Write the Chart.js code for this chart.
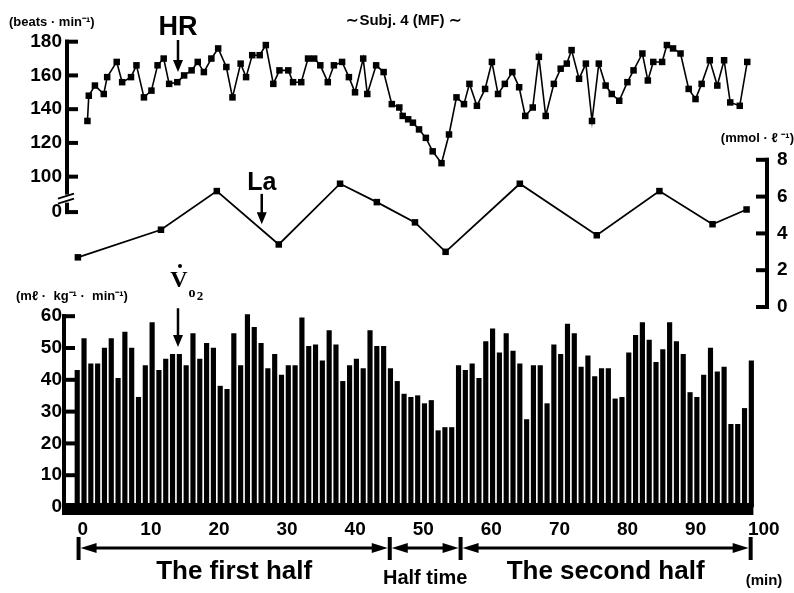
<!DOCTYPE html>
<html>
<head>
<meta charset="utf-8">
<script src="https://cdn.jsdelivr.net/npm/chart.js@4.4.1/dist/chart.umd.min.js"></script>
<style>
  html, body { margin: 0; padding: 0; background: #fff; }
  canvas { display: block; }
</style>
</head>
<body>
<canvas id="fig" width="794" height="593"></canvas>
<script>
// heart rate, one reading about every minute (beats/min)
var hrMinutes = [2.0, 2.2, 3.1, 4.4, 4.9, 6.3, 7.1, 8.4, 9.2, 10.3,
  11.4, 12.3, 13.2, 14.0, 15.2, 16.2, 17.3, 18.2, 19.1, 20.2,
  21.2, 22.4, 23.3, 24.5, 25.3, 26.2, 27.3, 28.2, 29.3, 30.2,
  31.5, 32.2, 33.4, 34.4, 35.3, 36.2, 37.3, 38.2, 39.4, 40.4,
  41.3, 42.5, 43.1, 44.4, 45.5, 46.7, 47.8, 48.3, 49.1, 49.8,
  50.7, 51.7, 52.7, 54.0, 55.1, 56.2, 57.3, 58.1, 59.2, 60.4,
  61.4, 62.3, 63.3, 64.4, 65.4, 66.3, 67.4, 68.3, 69.3, 70.5,
  71.5, 72.4, 73.1, 74.2, 75.2, 76.1, 77.1, 78.1, 79.0, 80.1,
  81.3, 82.2, 83.5, 84.3, 85.1, 86.4, 87.1, 88.0, 89.1, 90.3,
  91.3, 92.2, 93.4, 94.5, 95.5, 96.4, 97.8, 98.9];
var hrValues = [133, 148, 154, 149, 159, 168, 156, 159, 166, 147,
  151, 166, 170, 155, 156, 160, 163, 168, 162, 170,
  176, 165, 147, 167, 159, 172, 172, 178, 155, 163,
  163, 156, 156, 170, 170, 166, 156, 166, 168, 159,
  150, 170, 149, 166, 162, 143, 141, 136, 134, 132,
  128, 123, 115, 108, 125, 147, 143, 155, 142, 152,
  168, 149, 155, 162, 153, 136, 141, 171, 136, 155,
  164, 167, 175, 158, 167, 133, 167, 154, 149, 145,
  156, 163, 173, 157, 168, 168, 178, 176, 173, 152,
  146, 155, 169, 154, 169, 144, 142, 168];

// blood lactate (mmol/l)
var laMinutes = [0.6, 12.8, 21.0, 30.1, 39.1, 44.5, 50.1, 54.6, 65.5, 76.8, 86.0, 93.8, 98.8];
var laValues = [2.7, 4.2, 6.3, 3.4, 6.7, 5.7, 4.6, 3.0, 6.7, 3.9, 6.3, 4.5, 5.3];

// oxygen uptake, one bar per minute (ml/kg/min)
var vo2Values = [43, 53, 45, 45, 50, 53, 40.5, 55, 50, 34.5,
  44.5, 58, 43, 46.5, 48, 48, 44.5, 54.5, 46.5, 51.5,
  50, 38, 37, 54.5, 44.5, 60.5, 56.5, 51.5, 43.5, 48,
  41.5, 44.5, 44.5, 59.5, 50.5, 51, 46, 55.5, 51, 39.5,
  44.5, 46.5, 43.5, 55.5, 50.5, 50.5, 43.5, 39.5, 35.5, 34.5,
  35, 32.5, 33.5, 24, 25, 25, 44.5, 43, 45, 40.5,
  52, 56, 48.5, 54.5, 49, 45, 27.5, 44.5, 44.5, 32.5,
  51, 48, 57.5, 54.5, 44, 47.5, 41, 43.5, 43.5, 34,
  34.5, 48.5, 54, 58, 52.5, 45.5, 49.5, 58, 52, 48,
  36, 34.5, 41.5, 50, 42.5, 44, 26, 26, 31, 46];
var vo2Minutes = vo2Values.map(function (v, i) { return i + 0.5; });

// ticks
var minuteTicks = [0, 10, 20, 30, 40, 50, 60, 70, 80, 90, 100];
var hrAxisBreak = 79;   // where the broken HR axis shows "0"
var hrTicks = [hrAxisBreak, 100, 120, 140, 160, 180];
var laTicks = [0, 2, 4, 6, 8];
var vo2Ticks = [0, 10, 20, 30, 40, 50, 60];

// game periods (min)
var periodBounds = [0.7, 46.4, 56.8, 99.4];
var periodNames = ['The first half', 'Half time', 'The second half'];

var FONT = 'Liberation Sans, Arial, Helvetica, sans-serif';
var SERIF = 'Liberation Serif, DejaVu Serif, serif';

function setTicks(list) {
  return function (scale) {
    scale.ticks = list.map(function (v) { return { value: v }; });
  };
}

function seg(ctx, x1, y1, x2, y2) {
  ctx.beginPath();
  ctx.moveTo(x1, y1);
  ctx.lineTo(x2, y2);
  ctx.stroke();
}

function downArrow(ctx, x, y1, y2) {
  ctx.lineWidth = 2.5;
  seg(ctx, x, y1, x, y2 - 8);
  ctx.beginPath();
  ctx.moveTo(x - 5, y2 - 12);
  ctx.lineTo(x + 5, y2 - 12);
  ctx.lineTo(x, y2);
  ctx.closePath();
  ctx.fill();
}

var figureDecor = {
  id: 'figureDecor',
  afterDraw: function (chart) {
    var ctx = chart.ctx;
    var x = chart.scales.x, hr = chart.scales.hr, la = chart.scales.la, vo2 = chart.scales.vo2;
    var left = chart.chartArea.left, right = chart.chartArea.right;
    ctx.save();
    ctx.strokeStyle = '#000';
    ctx.fillStyle = '#000';

    // HR axis with a break down to 0
    var yTop = hr.getPixelForValue(180), y100 = hr.getPixelForValue(100), yZero = hr.getPixelForValue(hrAxisBreak);
    ctx.lineWidth = 4;
    seg(ctx, left, yTop - 2, left, y100 + 18);
    seg(ctx, left, y100 + 26, left, yZero + 2);
    hrTicks.forEach(function (v) {
      var y = hr.getPixelForValue(v);
      seg(ctx, left - 2, y, left + 11, y);
    });
    ctx.lineWidth = 2;
    seg(ctx, left - 9, y100 + 22, left + 7, y100 + 17);
    seg(ctx, left - 9, y100 + 27, left + 7, y100 + 22);

    // VO2 axis
    ctx.lineWidth = 4;
    seg(ctx, left - 3, vo2.getPixelForValue(60) - 2, left - 3, vo2.getPixelForValue(0));
    vo2Ticks.forEach(function (v) {
      var y = vo2.getPixelForValue(v);
      seg(ctx, left - 5, y, left + 8, y);
    });
    // thick base band
    var y0 = vo2.getPixelForValue(0);
    ctx.fillRect(left - 5, y0 - 4, x.getPixelForValue(99.8) - left + 5, 12);

    // lactate axis on the right
    seg(ctx, right, la.getPixelForValue(8) - 2, right, la.getPixelForValue(0) + 2);
    laTicks.forEach(function (v) {
      var y = la.getPixelForValue(v);
      seg(ctx, right - 11, y, right + 2, y);
    });

    // unit labels and title
    ctx.font = 'bold 13px ' + FONT;
    ctx.textBaseline = 'middle';
    ctx.textAlign = 'left';
    ctx.fillText('(beats \u00b7 min\u207b\u00b9)', 9, 22);
    ctx.fillText('(m\u2113 \u00b7  kg\u207b\u00b9 \u00b7  min\u207b\u00b9)', 16, 296);
    ctx.textAlign = 'right';
    ctx.fillText('(mmol \u00b7 \u2113 \u207b\u00b9)', 794, 138);
    ctx.textAlign = 'center';
    ctx.font = 'bold 15px ' + FONT;
    ctx.fillText('\u223cSubj. 4 (MF) \u223c', 404, 21);

    // HR label + arrow
    var hx = x.getPixelForValue(15.3);
    ctx.font = 'bold 27px ' + FONT;
    ctx.fillText('HR', hx, 28);
    downArrow(ctx, hx, hr.getPixelForValue(181), hr.getPixelForValue(162));

    // La label + arrow
    var lx = x.getPixelForValue(27.6);
    ctx.font = 'bold 25px ' + FONT;
    ctx.fillText('La', lx, la.getPixelForValue(6.75));
    downArrow(ctx, lx, la.getPixelForValue(6.15), la.getPixelForValue(4.5));

    // VO2 label + arrow
    var vx = x.getPixelForValue(15.3);
    ctx.font = 'bold 24px ' + SERIF;
    ctx.fillText('V', vx + 1, 281);
    ctx.beginPath();
    ctx.arc(vx + 2, 266, 2, 0, Math.PI * 2);
    ctx.fill();
    ctx.font = 'bold 14px ' + SERIF;
    ctx.fillText('o', vx + 14, 293);
    ctx.font = 'bold 13px ' + SERIF;
    ctx.fillText('2', vx + 22, 297);
    downArrow(ctx, vx, vo2.getPixelForValue(62.5), vo2.getPixelForValue(50.3));

    // game periods
    var ay = 548;
    ctx.lineWidth = 4;
    periodBounds.forEach(function (t) {
      var px = x.getPixelForValue(t);
      seg(ctx, px, ay - 11, px, ay + 12);
    });
    for (var i = 0; i < periodNames.length; i++) {
      var a = x.getPixelForValue(periodBounds[i]) + 2, b = x.getPixelForValue(periodBounds[i + 1]) - 2;
      ctx.lineWidth = 3;
      seg(ctx, a + 10, ay, b - 10, ay);
      ctx.beginPath();
      ctx.moveTo(a, ay); ctx.lineTo(a + 16, ay - 5); ctx.lineTo(a + 16, ay + 5); ctx.closePath();
      ctx.moveTo(b, ay); ctx.lineTo(b - 16, ay - 5); ctx.lineTo(b - 16, ay + 5); ctx.closePath();
      ctx.fill();
      var mid = (a + b) / 2;
      if (i === 1) {
        ctx.font = 'bold 20px ' + FONT;
        ctx.fillText(periodNames[i], mid, 578);
      } else {
        ctx.font = 'bold 26px ' + FONT;
        ctx.fillText(periodNames[i], mid, 572);
      }
    }
    ctx.font = 'bold 15px ' + FONT;
    ctx.fillText('(min)', 764, 581);
    ctx.restore();
  }
};

var tickFont = { family: FONT, size: 19, weight: 'bold' };

new Chart(document.getElementById('fig'), {
  type: 'bar',
  data: {
    datasets: [{
      type: 'line',
      label: 'HR',
      yAxisID: 'hr',
      data: hrMinutes.map(function (t, i) { return { x: t, y: hrValues[i] }; }),
      borderColor: '#000',
      borderWidth: 1.6,
      pointStyle: 'rect',
      pointRadius: 4.6,
      pointBackgroundColor: '#000',
      pointBorderWidth: 0,
      tension: 0
    }, {
      type: 'line',
      label: 'La',
      yAxisID: 'la',
      data: laMinutes.map(function (t, i) { return { x: t, y: laValues[i] }; }),
      borderColor: '#000',
      borderWidth: 1.8,
      pointStyle: 'rect',
      pointRadius: 4.6,
      pointBackgroundColor: '#000',
      pointBorderWidth: 0,
      tension: 0
    }, {
      type: 'bar',
      label: 'VO2',
      yAxisID: 'vo2',
      data: vo2Minutes.map(function (t, i) { return { x: t, y: vo2Values[i] }; }),
      backgroundColor: '#000',
      borderWidth: 0,
      barThickness: 4.5
    }]
  },
  options: {
    responsive: false,
    animation: false,
    devicePixelRatio: 1,
    layout: { padding: { top: 40, left: 0, right: 0, bottom: 0 } },
    plugins: { legend: { display: false }, tooltip: { enabled: false } },
    scales: {
      x: {
        type: 'linear', position: 'bottom', min: -1.0, max: 101.8, offset: false,
        afterBuildTicks: setTicks(minuteTicks),
        afterFit: function (s) { s.height = 83; },
        grid: { display: false, drawTicks: false },
        border: { display: false },
        ticks: { color: '#000', font: tickFont, padding: 8, labelOffset: 9, maxRotation: 0, autoSkip: false }
      },
      hr: {
        type: 'linear', position: 'left', stack: 'leftAxes', stackWeight: 220, weight: 1,
        min: 50.6, max: 181,
        afterBuildTicks: setTicks(hrTicks),
        afterFit: function (s) { s.width = 67; },
        grid: { display: false, drawTicks: false },
        border: { display: false },
        ticks: {
          color: '#000', font: tickFont, padding: 5, autoSkip: false,
          callback: function (v) { return v === hrAxisBreak ? '0' : v; }
        }
      },
      vo2: {
        type: 'linear', position: 'left', stack: 'leftAxes', stackWeight: 250, weight: 0,
        min: -0.94, max: 77.67,
        afterBuildTicks: setTicks(vo2Ticks),
        afterFit: function (s) { s.width = 67; },
        grid: { display: false, drawTicks: false },
        border: { display: false },
        ticks: { color: '#000', font: tickFont, padding: 5, autoSkip: false }
      },
      la: {
        type: 'linear', position: 'right', min: -11.03, max: 14.51,
        afterBuildTicks: setTicks(laTicks),
        afterFit: function (s) { s.width = 27; },
        grid: { display: false, drawTicks: false },
        border: { display: false },
        ticks: { color: '#000', font: tickFont, padding: 10, autoSkip: false }
      }
    }
  },
  plugins: [figureDecor]
});
</script>
</body>
</html>
